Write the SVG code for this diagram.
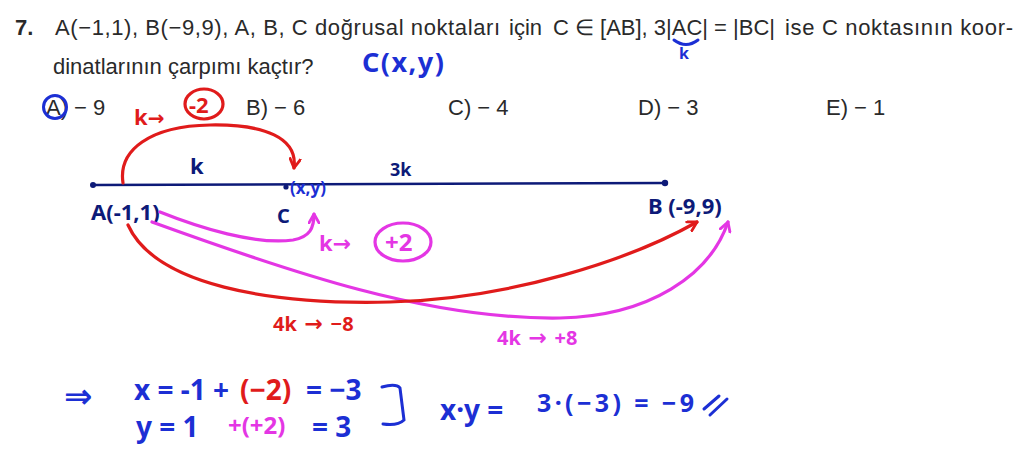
<svg xmlns="http://www.w3.org/2000/svg" width="1024" height="458" viewBox="0 0 1024 458">
<style>
.q{font-family:"Liberation Sans",Arial,sans-serif;font-size:22px;fill:#2a2a2a}
.h{font-family:"Noto Sans","Liberation Sans",sans-serif;font-weight:bold}
.ar{font-family:"DejaVu Sans",sans-serif;font-weight:bold}
.red{fill:#e01b1b}.mag{fill:#e436e4}.blu{fill:#1c2fd4}.nav{fill:#0d1a78}
.sr{fill:none;stroke:#e01b1b;stroke-width:3.2;stroke-linecap:round}
.sm{fill:none;stroke:#e436e4;stroke-width:3.2;stroke-linecap:round}
.sb{fill:none;stroke:#1c2fd4;stroke-width:3;stroke-linecap:round}
</style>
<defs>
<marker id="ar" viewBox="0 0 10 10" refX="8" refY="5" markerWidth="4" markerHeight="4" orient="auto" markerUnits="strokeWidth"><path d="M1,1 L8,5 L1,9" fill="none" stroke="#e01b1b" stroke-width="2.2" stroke-linecap="round" stroke-linejoin="round"/></marker>
<marker id="am" viewBox="0 0 10 10" refX="8" refY="5" markerWidth="4" markerHeight="4" orient="auto" markerUnits="strokeWidth"><path d="M1,1 L8,5 L1,9" fill="none" stroke="#e436e4" stroke-width="2.2" stroke-linecap="round" stroke-linejoin="round"/></marker>
</defs>
<rect width="1024" height="458" fill="#fff"/>

<g id="question">
<text class="q" x="15" y="35" font-weight="bold">7.</text>
<text class="q" x="55" y="35" textLength="445" lengthAdjust="spacing">A(−1,1), B(−9,9), A, B, C doğrusal noktaları</text>
<text class="q" x="509" y="35">için</text>
<text class="q" x="553" y="35" textLength="222" lengthAdjust="spacingAndGlyphs">C ∈ [AB], 3|AC| = |BC|</text>
<text class="q" x="785" y="35" textLength="228" lengthAdjust="spacing">ise C noktasının koor-</text>
<text class="q" x="53" y="74">dinatlarının çarpımı kaçtır?</text>
<text class="q" x="46" y="115">A) − 9</text>
<text class="q" x="246" y="115">B) − 6</text>
<text class="q" x="448" y="115">C) − 4</text>
<text class="q" x="638" y="115">D) − 3</text>
<text class="q" x="826" y="115">E) − 1</text>
</g>

<g id="notes-top">
<text class="h blu" x="362" y="72" font-size="27" letter-spacing="1.5">C(x,y)</text>
<ellipse cx="55" cy="107" rx="11.5" ry="11.5" class="sb"/>
<path d="M674,40 Q686,49 698,40" class="sb"/>
<text class="h blu" x="679" y="59" font-size="16">k</text>
<text class="h red" x="134" y="125" font-size="22">k<tspan class="ar" font-size="20">→</tspan></text>
<ellipse cx="204" cy="104" rx="19" ry="15" class="sr"/>
<text class="h red" x="189" y="113" font-size="22">-2</text>
</g>

<g id="segment">
<line x1="93" y1="185" x2="665" y2="183" stroke="#0d1a78" stroke-width="2.5"/>
<circle cx="93" cy="185" r="3" fill="#0d1a78"/>
<circle cx="665" cy="183" r="3.2" fill="#0d1a78"/>
<circle cx="286" cy="187" r="2.6" fill="#0d1a78"/>
<text class="h nav" x="190" y="174" font-size="22">k</text>
<text class="h nav" x="390" y="176" font-size="18">3k</text>
<text class="h blu" x="290" y="194" font-size="17">(x,y)</text>
<text class="h nav" x="91" y="220" font-size="22">A(-1,1)</text>
<text class="h nav" x="277" y="223" font-size="20">C</text>
<text class="h nav" x="648" y="214" font-size="22">B (-9,9)</text>
</g>

<g id="connectors">
<path d="M123,183 C118,150 150,126 210,125 C265,124 298,138 294,168" class="sr" marker-end="url(#ar)"/>
<path d="M160,212 C200,228 255,245 293,240 C310,237 314,228 314,214" class="sm" marker-end="url(#am)"/>
<path d="M152,222 C290,272 430,320 560,318 C650,316 710,275 728,222" class="sm" marker-end="url(#am)"/>
<path d="M128,225 C155,285 270,305 390,302 C510,299 630,260 697,222" class="sr" marker-end="url(#ar)"/>
</g>

<g id="notes-mid">
<text class="h mag" x="319" y="251" font-size="22">k<tspan class="ar" font-size="22">→</tspan></text>
<ellipse cx="403" cy="242" rx="28" ry="19" class="sm"/>
<text class="h mag" x="385" y="251" font-size="24">+2</text>
<text class="h red" x="273" y="331" font-size="20">4k<tspan class="ar" font-size="22"> → </tspan>−8</text>
<text class="h mag" x="497" y="345" font-size="20">4k<tspan class="ar" font-size="22"> → </tspan>+8</text>
</g>

<g id="solution">
<text class="ar blu" x="64" y="408" font-size="34">⇒</text>
<text class="h blu" x="134" y="400" font-size="28">x = -1 +</text>
<text class="h red" x="240" y="400" font-size="28">(−2)</text>
<text class="h blu" x="306" y="400" font-size="28">= −3</text>
<text class="h blu" x="136" y="437" font-size="28">y = 1</text>
<text class="h mag" x="228" y="434" font-size="24">+(+2)</text>
<text class="h blu" x="312" y="437" font-size="28">= 3</text>
<path d="M382,387 Q396,383 400,388 L404,420 Q398,426 383,424" class="sb" stroke-width="3.5"/>
<text class="h blu" x="440" y="420" font-size="28">x·y =</text>
<text class="h blu" x="537" y="412" font-size="25" textLength="157" lengthAdjust="spacing">3·(−3) = −9</text>
<path d="M704,409 L719,396 M710,415 L727,399" class="sb"/>
</g>
</svg>
